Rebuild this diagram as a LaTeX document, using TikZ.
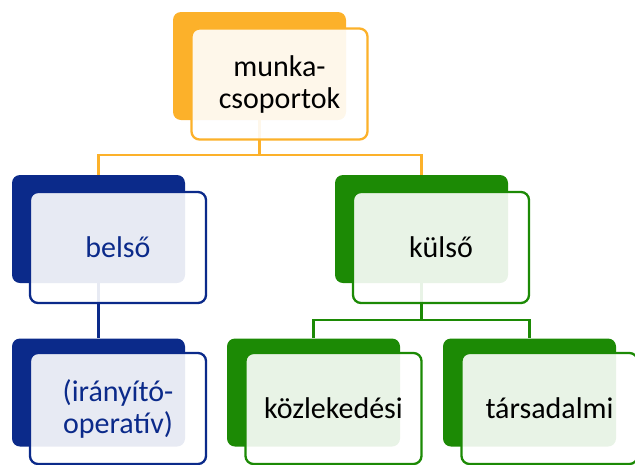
\documentclass[tikz,border=0pt]{standalone}
\usepackage{fontspec}
\setmainfont{Carlito}

\definecolor{orgc}{HTML}{FCB12A}
\definecolor{navyc}{HTML}{0B2A8A}
\definecolor{greenc}{HTML}{1C8A05}

\begin{document}
\begin{tikzpicture}[x=1pt,y=-1pt,
  back/.style={fill=#1,rounded corners=8pt,minimum width=173pt,minimum height=108pt,inner sep=0pt},
  front/.style={draw=#1,line width=2.3pt,fill=white,fill opacity=0.9,text opacity=1,rounded corners=8pt,
    minimum width=176pt,minimum height=111pt,inner sep=0pt,align=center,font=\fontsize{30}{32}\selectfont},
  link/.style={draw=#1,line width=2.3pt}]
%\draw[step=10pt,gray,very thin] (0,0) grid (635,464); %background grid
\useasboundingbox (0,0) rectangle (635,464);

% back boxes
\node[back=orgc] (munkab) at (259.5,66) {};
\node[back=navyc] (belsob) at (98.5,229) {};
\node[back=greenc] (kulsob) at (421.5,229) {};
\node[back=navyc] (iranyb) at (98.5,392.5) {};
\node[back=greenc] (kozlb) at (313.5,392.5) {};
\node[back=greenc] (tarsb) at (529.5,392.5) {};

% connectors
\coordinate (j1) at (259.5,155);
\coordinate (j2) at (421.5,320);
\draw[link=orgc] (munkab.south) -- (j1);
\draw[link=orgc] (j1) -| (belsob.north);
\draw[link=orgc] (j1) -| (kulsob.north);
\draw[link=navyc] (belsob.south) -- (iranyb.north);
\draw[link=greenc] (kulsob.south) -- (j2);
\draw[link=greenc] (j2) -| (kozlb.north);
\draw[link=greenc] (j2) -| (tarsb.north);

% front boxes
\node[front=orgc] (munka) at (279.5,84) {munka-\\csoportok};
\node[front=navyc,text=navyc] (belso) at (118,247.5) {belső};
\node[front=greenc] (kulso) at (441,247.5) {külső};
\node[front=navyc,text=navyc] (irany) at (118,408.5) {(irányító-\\operatív)};
\node[front=greenc] (kozl) at (333.5,408.5) {közlekedési};
\node[front=greenc] (tars) at (549.5,408.5) {társadalmi};

\end{tikzpicture}
\end{document}
